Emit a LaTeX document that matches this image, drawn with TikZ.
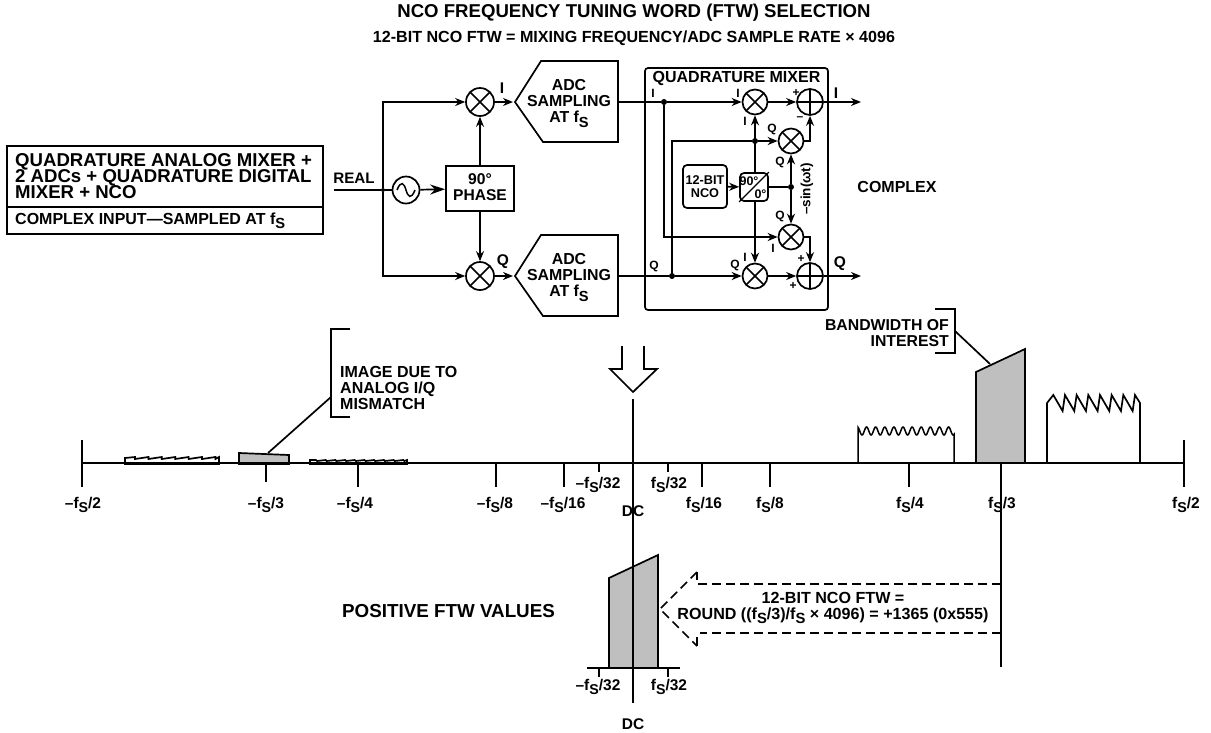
\documentclass[tikz,border=0pt]{standalone}
\usepackage{fontspec}
\setmainfont{Liberation Sans}[BoldFont={Liberation Sans Bold}]
\usetikzlibrary{arrows.meta,calc}
\newcommand\fS{f\raisebox{-.28em}{\scalebox{.92}{S}}}
\normallineskiplimit=-20pt
\lineskiplimit=-20pt
\AtBeginDocument{\normallineskiplimit=-20pt\relax\lineskiplimit=-20pt\relax}
\tikzset{
  ln/.style={line width=1.7pt,line join=miter},
  arr/.style={ln,-{Stealth[length=10pt,width=8pt]}},
  txt/.style={font=\fontsize{#1}{#1}\selectfont\bfseries,inner sep=0pt,align=center},
  txt/.default=15,
  lsk/.style={font=\fontsize{#1}{16}\selectfont\bfseries,inner sep=0pt},
  lbl/.style={txt=15.5,anchor=center},
  slab/.style={txt=12,anchor=center},
  mixer/.style={circle,draw,line width=1.7pt,minimum size=28pt,inner sep=0pt,
    path picture={\draw[line width=1.7pt] (path picture bounding box.north west)--(path picture bounding box.south east)
      (path picture bounding box.north east)--(path picture bounding box.south west);}},
  smix/.style={mixer,minimum size=25pt},
  adder/.style={circle,draw,line width=1.7pt,minimum size=26pt,inner sep=0pt,
    path picture={\draw[line width=1.7pt] (path picture bounding box.north)--(path picture bounding box.south)
      (path picture bounding box.east)--(path picture bounding box.west);}},
  dotn/.style={circle,fill,inner sep=0pt,minimum size=6pt},
  spec/.style={ln,fill=white},
  gray fillc/.style={ln,fill=black!25},
  dsh/.style={line width=1.5pt,dash pattern=on 9pt off 5pt},
}
\begin{document}
\begin{tikzpicture}[x=1pt,y=-1pt]
\useasboundingbox (0,0) rectangle (1211,732);
% titles
\node[txt=18.6] (t1) at (634,13) {NCO FREQUENCY TUNING WORD (FTW) SELECTION};
\node[txt=16.1] (t2) at (634,38.5) {12-BIT NCO FTW = MIXING FREQUENCY/ADC SAMPLE RATE × 4096};
% left box
\node[draw,line width=1.7pt,minimum width=316pt,minimum height=61pt,inner sep=0pt] (lb1) at (165,176.5) {};
\node[draw,line width=1.7pt,minimum width=316pt,minimum height=27pt,inner sep=0pt] (lb2) at (165,220.5) {};
\node[lsk=18.6,align=left,anchor=west] (lt1) at (15,176.5) {QUADRATURE ANALOG MIXER +\\2 ADCs + QUADRATURE DIGITAL\\MIXER + NCO};
\node[txt=16,anchor=west] (lt2) at (15,221) {COMPLEX INPUT—SAMPLED AT \fS};
% analog section
\coordinate (rin) at (334,190);
\node[dotn,minimum size=4pt] (br) at (383,190) {};
\node[txt=15.2] (real) at (354,178) {REAL};
\node[mixer] (m1) at (480,102) {};
\node[mixer] (m2) at (480,276) {};
\node[circle,draw,line width=1.7pt,minimum size=27pt,inner sep=0pt] (osc) at (406,190) {};
\draw[line width=1.5pt] ($(osc)+(-9,0)$) .. controls ($(osc)+(-5,-10)$) and ($(osc)+(-2,-7)$) .. (osc.center) .. controls ($(osc)+(2,7)$) and ($(osc)+(5,10)$) .. ($(osc)+(9,0)$);
\node[draw,line width=1.7pt,minimum width=68pt,minimum height=45pt,inner sep=0pt] (ph) at (480,188.5) {};
\node[lsk=15.6,align=center] (pht) at (480,187) {90°\\PHASE};
\node[minimum width=103pt,minimum height=81pt,inner sep=0pt] (a1) at (566.5,102) {};
\draw[ln] (515,102) -- (541,61) -- (618,61) -- (618,142) -- (543,142) -- cycle;
\node[lsk=15.9,align=center] (a1t) at (569,103.5) {ADC\\SAMPLING\\AT \fS};
\node[minimum width=103pt,minimum height=81pt,inner sep=0pt] (a2) at (566.5,276) {};
\draw[ln] (515,276) -- (541,235) -- (618,235) -- (618,316) -- (543,316) -- cycle;
\node[lsk=15.9,align=center] (a2t) at (569,277.5) {ADC\\SAMPLING\\AT \fS};
\draw[ln] (rin) -- (br);
\draw[ln] (br) -- (osc);
\draw[arr] (br) |- (m1);
\draw[arr] (br) |- (m2);
\draw[ln,-{Stealth[length=15pt,width=10pt]}] (osc) -- (ph);
\draw[arr] (ph) -- (m1);
\draw[arr] (ph) -- (m2);
\coordinate (a1tip) at (513,102);
\coordinate (a2tip) at (513,276);
\draw[arr] (m1) -- (a1tip);
\draw[arr] (m2) -- (a2tip);
\node[lbl] (li) at (502,88) {I};
\node[lbl] (lq) at (503,262) {Q};
% quadrature mixer
\node[draw,line width=1.7pt,rounded corners=3pt,minimum width=183pt,minimum height=242pt,inner sep=0pt] (qm) at (736.5,189) {};
\node[txt=16] (qmt) at (736.5,78.5) {QUADRATURE MIXER};
\coordinate (a1out) at (618,102);
\coordinate (a2out) at (618,276);
\node[dotn] (dI) at (664,102) {};
\node[dotn] (dQ) at (672,276) {};
\node[smix] (x1) at (755,102) {};
\node[adder] (s1) at (810,102) {};
\node[smix] (x2) at (791,141) {};
\node[smix] (x3) at (791,237) {};
\node[smix] (x4) at (755,276) {};
\node[adder] (s2) at (810,276) {};
\node[draw,line width=1.7pt,rounded corners=4pt,minimum width=44pt,minimum height=43pt,inner sep=0pt,txt=12.7] (nco) at (705,186.5) {12-BIT\\NCO};
\node[draw,line width=1.7pt,rounded corners=4pt,minimum width=28pt,minimum height=28pt,inner sep=0pt] (ps) at (754,187) {};
\draw[line width=1.3pt] (ps.south west) -- (ps.north east);
\node[txt=12.5] (p90) at (749,181) {90°};
\node[txt=12.5] (p0) at (760.5,194) {0°};
\node[dotn] (dT) at (755,141) {};
\node[dotn] (dS) at (791,187) {};
\coordinate (qout1) at (861,102);
\coordinate (qout2) at (861,276);
\draw[ln] (a1out) -- (dI);
\draw[ln] (a2out) -- (dQ);
\draw[arr] (dI) -- (x1);
\draw[arr] (dQ) -- (x4);
\draw[arr] (dI) |- (x3);
\draw[ln] (dQ) -- (672,141) -- (dT);
\draw[arr] (dT) -- (x2);
\draw[arr] (ps.north -| x1) -- (x1);
\draw[arr] (ps.south -| x4) -- (x4);
\draw[arr] (nco) -- (ps);
\draw[ln] (ps) -- (dS);
\draw[arr] (dS) -- (x2);
\draw[arr] (dS) -- (x3);
\draw[arr] (x1) -- (s1);
\draw[arr] (x4) -- (s2);
\draw[arr] (x2.east) -| (s1.south);
\draw[arr] (x3.east) -| (s2.north);
\draw[arr] (s1) -- (qout1);
\draw[arr] (s2) -- (qout2);
\node[slab] at (653,93) {I};
\node[slab] at (654,266) {Q};
\node[slab] at (738,93) {I};
\node[slab] at (745,121) {I};
\node[slab] at (772,129) {Q};
\node[slab] at (780,162) {Q};
\node[slab] at (780,216) {Q};
\node[slab] at (773,248) {I};
\node[slab] at (745,257) {I};
\node[slab] at (735,265) {Q};
\node[slab] at (796,93) {+};
\node[slab] at (800,119) {–};
\node[slab] at (801,259) {+};
\node[slab] at (793,286) {+};
\node[lbl] at (836,93) {I};
\node[lbl] at (840,264) {Q};
\node[txt=13.5,rotate=90] (sin) at (807,189) {–sin(ωt)};
\node[txt=16] (cx) at (897,187) {COMPLEX};
% big arrow
\coordinate (ba) at (633,392);
\draw[ln] (622,346) -- (622,369) -- (610,369) -- (ba) -- (657,369) -- (644,369) -- (644,346);
% spectrum
\coordinate (axL) at (82,463);
\coordinate (axR) at (1184,463);
\draw[spec] (125,464) -- (125,458) \foreach \k in {0,...,6} { -- ({125+13.4*\k+10},457) -- ({125+13.4*\k+10},459) } -- (219,457) -- (219,464) -- cycle;
\draw[gray fillc] (239,464) -- (239,453) -- (289,455) -- (289,464) -- cycle;
\draw[spec] (310,464) -- (310,460) \foreach \k in {0,...,9} { -- ({310+9.7*\k+6},460) -- ({310+9.7*\k+7},461) } -- (407,460) -- (407,464) -- cycle;
\draw[line width=1.5pt,fill=white] (858,463) -- (858,431) -- plot[domain=858:954,samples=193] (\x,{431+4*cos((\x-862)*39.5)}) -- (954,463);
\draw[gray fillc] (976,463) -- (976,372) -- (1025,349) -- (1025,463) -- cycle;
\draw[spec] (1047,463) -- (1047,403) \foreach \k in {0,...,6} { -- ({1053.3+11.67*\k},395) -- ({1053.3+11.67*\k+9.3},411) } -- (1135,395) -- (1140,403) -- (1140,463);
\draw[ln] (axL) -- (axR);
\draw[ln] (633,399) -- (633,703);
\foreach \x/\b in {82/440,1184/440}{\draw[ln] (\x,\b) -- (\x,487);}
\foreach \x/\e in {266/482,358/487,496/487,564/487,599/472,668/472,702/487,770/487,909/487}{\draw[ln] (\x,463) -- (\x,\e);}
\draw[ln] (1001,463) -- (1001,667);
\foreach \x/\y/\t in {83/505/{–\fS/2},266/505/{–\fS/3},355/505/{–\fS/4},495/505/{–\fS/8},563/505/{–\fS/16},598/485/{–\fS/32},669/485/{\fS/32},704/505/{\fS/16},770/505/{\fS/8},910/505/{\fS/4},1002/505/{\fS/3},1186/505/{\fS/2},598/687/{–\fS/32},669/687/{\fS/32}}{\node[lbl] at (\x,\y) {\t};}
\node[lbl] (dc1) at (633,511) {DC};
\node[lbl] (dc2) at (633,724) {DC};
% annotations
\draw[ln] (350,329) -- (331,329) -- (331,417) -- (350,417);
\draw[ln] (331,397) -- (268,453);
\node[txt=16,align=left,anchor=west] (imt) at (340,388) {IMAGE DUE TO\\ANALOG I/Q\\MISMATCH};
\draw[ln] (935,309) -- (955,309) -- (955,353) -- (935,353);
\draw[ln] (955,331) -- (990,364);
\node[lsk=15.8,align=right,anchor=east] (bwt) at (949,333.5) {BANDWIDTH OF\\INTEREST};
% lower
\draw[gray fillc] (609,668) -- (609,578) -- (658,555) -- (658,668) -- cycle;
\draw[ln] (633,560) -- (633,703);
\draw[ln] (587,668) -- (680,668);
\draw[ln] (599,668) -- (599,677);
\draw[ln] (668,668) -- (668,677);
\coordinate (d1) at (1001,584);
\coordinate (d2) at (1001,633);
\draw[dsh] (d1) -- (697,584);
\draw[dsh] (d2) -- (700,633);
\draw[dsh] (697,572) -- (660,609) -- (697,646);
\draw[line width=1.5pt] (697,572) -- (697,580);
\draw[line width=1.5pt] (697,646) -- (697,637);
\node[lsk=16.1,align=center] (ftw) at (833,608) {12-BIT NCO FTW =\\ROUND ((\fS/3)/\fS{} × 4096) = +1365 (0x555)};
\node[txt=18.8] (pos) at (448.5,611) {POSITIVE FTW VALUES};
\end{tikzpicture}
\end{document}
